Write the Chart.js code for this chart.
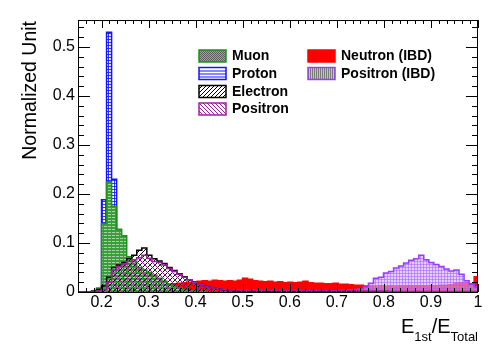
<!DOCTYPE html>
<html>
<head>
<meta charset="utf-8">
<script src="https://cdn.jsdelivr.net/npm/chart.js@4/dist/chart.umd.min.js"></script>
<style>
  html, body { margin: 0; padding: 0; background: #fff; }
</style>
</head>
<body>
<canvas id="c" width="493" height="349"></canvas>
<script>
// 80 equal bins in E1st/Etotal
const binLow = 0.1465;
const binWidth = 0.0107;

const xTickVals = [0.2, 0.3, 0.4, 0.5, 0.6, 0.7, 0.8, 0.9, 1.0];
const yTickVals = [0, 0.1, 0.2, 0.3, 0.4, 0.5];

const muon = [
  0, 0, 0, 0, 0.008, 0.140, 0.225, 0.175, 0.128, 0.115,
  0.072, 0.062, 0.050, 0.045, 0.040, 0.034, 0.028, 0.022, 0.016, 0.012,
  0.008, 0.005, 0.003, 0.002, 0.002, 0.001, 0, 0, 0, 0,
  0, 0, 0, 0, 0, 0, 0, 0, 0, 0,
  0, 0, 0, 0, 0, 0, 0, 0, 0, 0,
  0, 0, 0, 0, 0, 0, 0, 0, 0, 0,
  0, 0, 0, 0, 0, 0, 0, 0, 0, 0,
  0, 0, 0, 0, 0, 0, 0, 0, 0, 0
];

const proton = [
  0, 0, 0, 0, 0.003, 0.188, 0.530, 0.230, 0.035, 0.012,
  0.005, 0.002, 0, 0, 0, 0, 0, 0, 0, 0,
  0, 0, 0, 0, 0, 0, 0, 0, 0, 0,
  0, 0, 0, 0, 0, 0, 0, 0, 0, 0,
  0, 0, 0, 0, 0, 0, 0, 0, 0, 0,
  0, 0, 0, 0, 0, 0, 0, 0, 0, 0,
  0, 0, 0, 0, 0, 0, 0, 0, 0, 0,
  0, 0, 0, 0, 0, 0, 0, 0, 0, 0
];

const electron = [
  0, 0, 0, 0.002, 0.005, 0.012, 0.030, 0.050, 0.055, 0.060,
  0.068, 0.075, 0.085, 0.090, 0.075, 0.068, 0.063, 0.058, 0.050, 0.044,
  0.037, 0.031, 0.025, 0.020, 0.016, 0.013, 0.010, 0.008, 0.006, 0.004,
  0.003, 0.002, 0.001, 0, 0, 0, 0, 0, 0, 0,
  0, 0, 0, 0, 0, 0, 0, 0, 0, 0,
  0, 0, 0, 0, 0, 0, 0, 0, 0, 0,
  0, 0, 0, 0, 0, 0, 0, 0, 0, 0,
  0, 0, 0, 0, 0, 0, 0, 0, 0, 0
];

const positron = [
  0, 0, 0, 0, 0.002, 0.005, 0.020, 0.045, 0.052, 0.057,
  0.062, 0.066, 0.070, 0.075, 0.069, 0.062, 0.060, 0.055, 0.048, 0.042,
  0.036, 0.030, 0.025, 0.020, 0.016, 0.012, 0.010, 0.008, 0.006, 0.005,
  0.004, 0.004, 0.004, 0.004, 0.004, 0.004, 0.004, 0.004, 0.004, 0.004,
  0.004, 0.004, 0.004, 0.004, 0.004, 0.003, 0.003, 0.003, 0.003, 0.003,
  0.003, 0.003, 0.003, 0.003, 0.003, 0.003, 0.002, 0.002, 0.002, 0.002,
  0.002, 0.002, 0.001, 0.001, 0.001, 0.001, 0.001, 0.001, 0.001, 0.001,
  0.001, 0.001, 0.001, 0.001, 0.001, 0.001, 0.001, 0.001, 0.001, 0.001
];

const neutronIBD = [
  0, 0, 0, 0, 0, 0, 0, 0, 0.002, 0.004,
  0.006, 0.008, 0.009, 0.010, 0.011, 0.012, 0.013, 0.015, 0.016, 0.017,
  0.018, 0.019, 0.020, 0.021, 0.022, 0.023, 0.022, 0.024, 0.023, 0.022,
  0.023, 0.022, 0.024, 0.028, 0.026, 0.023, 0.022, 0.021, 0.022, 0.020,
  0.021, 0.019, 0.020, 0.019, 0.020, 0.022, 0.019, 0.018, 0.018, 0.017,
  0.017, 0.018, 0.016, 0.016, 0.015, 0.014, 0.014, 0.012, 0.012, 0.011,
  0.012, 0.011, 0.012, 0.011, 0.012, 0.012, 0.013, 0.012, 0.013, 0.012,
  0.013, 0.013, 0.014, 0.014, 0.015, 0.018, 0.019, 0.019, 0.017, 0.031
];

const positronIBD = [
  0, 0, 0, 0, 0, 0, 0, 0, 0, 0,
  0, 0, 0, 0, 0, 0, 0, 0, 0, 0,
  0, 0, 0, 0, 0, 0, 0, 0, 0, 0,
  0, 0, 0, 0, 0, 0, 0, 0, 0, 0,
  0, 0, 0, 0, 0, 0.001, 0.001, 0.001, 0.001, 0.001,
  0.002, 0.002, 0.003, 0.003, 0.004, 0.005, 0.006, 0.010, 0.018, 0.028,
  0.030, 0.039, 0.042, 0.049, 0.053, 0.059, 0.065, 0.068, 0.075, 0.066,
  0.060, 0.056, 0.052, 0.047, 0.043, 0.045, 0.036, 0.023, 0.016, 0.010
];

const COL = {
  green: "#3a9f3a",
  greenLine: "#1f8f1f",
  blue: "#1414ff",
  black: "#000000",
  purple: "#a01fa0",
  red: "#ff0000",
  violet: "#9a3cff",
};
const FONT = '"Liberation Sans", Arial, Helvetica, sans-serif';

function makePattern(w, h, draw) {
  const c = document.createElement("canvas");
  c.width = w; c.height = h;
  const g = c.getContext("2d");
  draw(g, w, h);
  return g.createPattern(c, "repeat");
}

function hatch(color, s, forward) {
  return makePattern(s, s, (g) => {
    g.strokeStyle = color;
    g.lineWidth = 1;
    g.beginPath();
    if (forward) {
      g.moveTo(0, s); g.lineTo(s, 0);
      g.moveTo(-1, 1); g.lineTo(1, -1);
      g.moveTo(s - 1, s + 1); g.lineTo(s + 1, s - 1);
    } else {
      g.moveTo(0, 0); g.lineTo(s, s);
      g.moveTo(-1, s - 1); g.lineTo(1, s + 1);
      g.moveTo(s - 1, -1); g.lineTo(s + 1, 1);
    }
    g.stroke();
  });
}

// fill styles used inside the frame
const fillMuon = makePattern(4, 3, (g) => {
  g.fillStyle = COL.green; g.fillRect(0, 0, 4, 3);
  g.fillStyle = "rgba(255,255,255,0.55)"; g.fillRect(0, 1, 3, 1);
});
const fillProton = makePattern(3, 3, (g) => {
  g.fillStyle = "#fff"; g.fillRect(0, 0, 3, 3);
  g.fillStyle = "rgba(20,20,255,0.85)";
  g.fillRect(0, 0, 3, 1); g.fillRect(0, 0, 1, 3);
});
const fillElectron = hatch(COL.black, 5, true);
const fillPositron = hatch(COL.purple, 5, false);
const fillIBD = makePattern(3, 3, (g) => {
  g.fillStyle = "rgba(214,172,255,0.6)"; g.fillRect(0, 0, 3, 3);
  g.fillStyle = "rgba(165,95,255,0.55)";
  g.fillRect(0, 0, 3, 1); g.fillRect(0, 0, 1, 3);
});

// legend swatch fills
const swMuon = makePattern(2, 2, (g) => {
  g.fillStyle = "#a2a2a2"; g.fillRect(0, 0, 2, 2);
  g.fillStyle = "#5c5c5c"; g.fillRect(0, 0, 1, 1); g.fillRect(1, 1, 1, 1);
});
const swIBD = makePattern(2, 1, (g) => {
  g.fillStyle = "#c4c4c4"; g.fillRect(0, 0, 2, 1);
  g.fillStyle = "#7a7a7a"; g.fillRect(0, 0, 1, 1);
});

function histPoints(vals) {
  const pts = vals.map((v, i) => ({ x: binLow + i * binWidth, y: v }));
  pts.push({ x: binLow + vals.length * binWidth, y: vals[vals.length - 1] });
  return pts;
}

function hist(label, vals, line, fill, order) {
  return {
    label,
    data: histPoints(vals),
    borderColor: line,
    backgroundColor: fill,
    borderWidth: 1.5,
    stepped: true,
    fill: "origin",
    pointRadius: 0,
    pointHitRadius: 0,
    order,
    clip: { left: 0, top: 0, right: 0, bottom: 2 },
  };
}

// frame, inward ROOT-style ticks, axis titles and the two-column legend
const decorations = {
  id: "decorations",
  afterDraw(chart) {
    const { ctx, chartArea: a, scales } = chart;
    const xs = scales.x, ys = scales.y;
    ctx.save();
    ctx.strokeStyle = "#000";
    ctx.lineWidth = 1;
    ctx.strokeRect(Math.round(a.left) + 0.5, Math.round(a.top) + 0.5,
      Math.round(a.right - a.left) - 1, Math.round(a.bottom - a.top));

    ctx.beginPath();
    // x ticks, top and bottom
    for (let k = 0; k <= 51; k++) {
      const v = 0.15 + k / 60;
      if (v > 1.0001) break;
      const px = Math.round(xs.getPixelForValue(v)) + 0.5;
      const major = Math.abs(v * 10 - Math.round(v * 10)) < 1e-6;
      const len = major ? 8 : 4;
      ctx.moveTo(px, a.bottom); ctx.lineTo(px, a.bottom - len);
      ctx.moveTo(px, a.top); ctx.lineTo(px, a.top + len);
    }
    // y ticks, left and right
    for (let k = 0; k <= 27; k++) {
      const v = k * 0.02;
      const py = Math.round(ys.getPixelForValue(v)) + 0.5;
      const len = k % 5 === 0 ? 12 : 6;
      ctx.moveTo(a.left, py); ctx.lineTo(a.left + len, py);
      ctx.moveTo(a.right, py); ctx.lineTo(a.right - len, py);
    }
    ctx.stroke();

    // y title
    ctx.fillStyle = "#000";
    ctx.font = "19.5px " + FONT;
    ctx.save();
    ctx.translate(36, a.top + 1);
    ctx.rotate(-Math.PI / 2);
    ctx.textAlign = "right";
    ctx.textBaseline = "alphabetic";
    ctx.fillText("Normalized Unit", 0, 0);
    ctx.restore();

    // x title with subscripts, right-aligned to the frame
    const parts = [
      ["E", 20, 0], ["1st", 13, 8], ["/", 20, 0], ["E", 20, 0], ["Total", 13, 8],
    ];
    let total = 0;
    parts.forEach((p) => { ctx.font = p[1] + "px " + FONT; total += ctx.measureText(p[0]).width; });
    let x = a.right - total;
    ctx.textAlign = "left";
    parts.forEach((p) => {
      ctx.font = p[1] + "px " + FONT;
      ctx.fillText(p[0], x, 333 + p[2]);
      x += ctx.measureText(p[0]).width;
    });

    // legend
    const items = [
      { t: "Muon", x: 199, y: 50, fill: swMuon, line: COL.greenLine },
      { t: "Proton", x: 199, y: 67.5, fill: null, line: COL.blue, lines: true },
      { t: "Electron", x: 199, y: 85.5, fill: hatch("#000", 4, true), line: "#000" },
      { t: "Positron", x: 199, y: 103, fill: hatch(COL.purple, 4, false), line: COL.purple },
      { t: "Neutron (IBD)", x: 308, y: 50, fill: COL.red, line: COL.red },
      { t: "Positron (IBD)", x: 308, y: 67.5, fill: swIBD, line: COL.violet },
    ];
    ctx.font = "bold 14px " + FONT;
    ctx.textBaseline = "middle";
    items.forEach((it) => {
      const w = 27, h = 12;
      ctx.fillStyle = it.fill || "#fff";
      ctx.fillRect(it.x, it.y, w, h);
      if (it.lines) {
        ctx.strokeStyle = it.line;
        ctx.beginPath();
        [3, 6, 9].forEach((d) => { ctx.moveTo(it.x, it.y + d + 0.5); ctx.lineTo(it.x + w, it.y + d + 0.5); });
        ctx.stroke();
      }
      ctx.strokeStyle = it.line;
      ctx.lineWidth = 1.5;
      ctx.strokeRect(it.x, it.y, w, h);
      ctx.lineWidth = 1;
      ctx.fillStyle = "#000";
      ctx.fillText(it.t, it.x + 33, it.y + h / 2 + 0.5);
    });
    ctx.restore();
  },
};

const fmt = (v) => (v === 0 ? "0" : String(+v.toFixed(1)));

new Chart(document.getElementById("c"), {
  type: "line",
  data: {
    datasets: [
      hist("Positron", positron, COL.purple, fillPositron, 1),
      hist("Electron", electron, COL.black, fillElectron, 2),
      hist("Muon", muon, COL.greenLine, fillMuon, 3),
      hist("Proton", proton, COL.blue, fillProton, 4),
      hist("Positron (IBD)", positronIBD, COL.violet, fillIBD, 5),
      hist("Neutron (IBD)", neutronIBD, COL.red, COL.red, 6),
    ],
  },
  options: {
    responsive: false,
    animation: false,
    events: [],
    layout: { padding: { left: 0, right: 15, top: 20, bottom: 0 } },
    plugins: { legend: { display: false }, tooltip: { enabled: false } },
    scales: {
      x: {
        type: "linear",
        min: 0.15,
        max: 1.0,
        grid: { display: false, drawTicks: false },
        border: { display: false },
        afterBuildTicks: (s) => { s.ticks = xTickVals.map((v) => ({ value: v })); },
        afterFit: (s) => { s.height = 57; },
        ticks: { color: "#000", padding: 1, maxRotation: 0, font: { family: FONT, size: 16 }, callback: fmt },
      },
      y: {
        min: 0,
        max: 0.555,
        grid: { display: false, drawTicks: false },
        border: { display: false },
        afterBuildTicks: (s) => { s.ticks = yTickVals.map((v) => ({ value: v })); },
        afterFit: (s) => { s.width = 78; },
        ticks: { color: "#000", padding: 3, font: { family: FONT, size: 16 }, callback: fmt },
      },
    },
  },
  plugins: [decorations],
});
</script>
</body>
</html>
